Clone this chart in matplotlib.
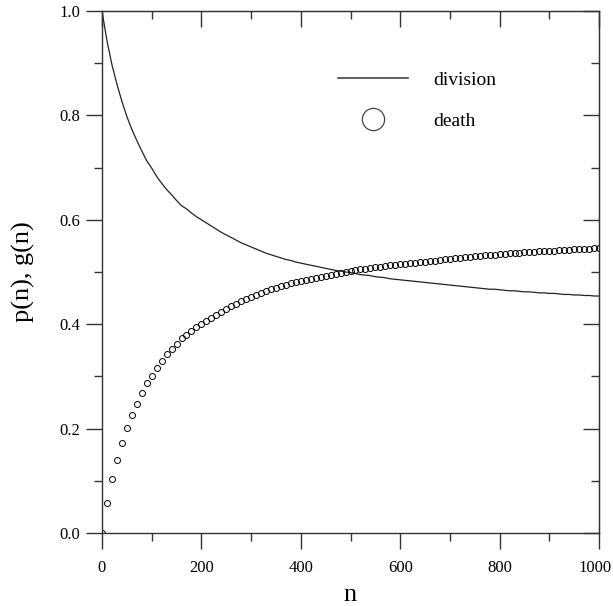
import matplotlib
matplotlib.use("Agg")
import matplotlib.pyplot as plt
import matplotlib.transforms as mtransforms
from matplotlib.lines import Line2D
from matplotlib.ticker import MultipleLocator

n_values = list(range(0, 1001, 10))

death = [
    0.000, 0.057, 0.103, 0.140, 0.173, 0.202, 0.227, 0.248, 0.268, 0.287,
    0.301, 0.317, 0.330, 0.342, 0.352, 0.363, 0.373, 0.379, 0.387, 0.394,
    0.400, 0.406, 0.412, 0.418, 0.424, 0.429, 0.434, 0.439, 0.444, 0.448,
    0.452, 0.456, 0.460, 0.464, 0.467, 0.470, 0.473, 0.476, 0.478, 0.481,
    0.483, 0.485, 0.487, 0.489, 0.491, 0.493, 0.495, 0.497, 0.498, 0.500,
    0.501, 0.503, 0.505, 0.506, 0.507, 0.509, 0.510, 0.511, 0.513, 0.514,
    0.515, 0.516, 0.517, 0.518, 0.519, 0.520, 0.521, 0.522, 0.523, 0.524,
    0.525, 0.526, 0.527, 0.528, 0.529, 0.530, 0.531, 0.532, 0.533, 0.533,
    0.534, 0.535, 0.536, 0.536, 0.537, 0.538, 0.538, 0.539, 0.540, 0.540,
    0.541, 0.541, 0.542, 0.543, 0.543, 0.544, 0.544, 0.545, 0.545, 0.546,
    0.546,
]

division = [
    1.000, 0.943, 0.897, 0.860, 0.827, 0.798, 0.773, 0.752, 0.732, 0.713,
    0.699, 0.683, 0.670, 0.658, 0.648, 0.637, 0.627, 0.621, 0.613, 0.606,
    0.600, 0.594, 0.588, 0.582, 0.576, 0.571, 0.566, 0.561, 0.556, 0.552,
    0.548, 0.544, 0.540, 0.536, 0.533, 0.530, 0.527, 0.524, 0.522, 0.519,
    0.517, 0.515, 0.513, 0.511, 0.509, 0.507, 0.505, 0.503, 0.502, 0.500,
    0.499, 0.497, 0.495, 0.494, 0.493, 0.491, 0.490, 0.489, 0.487, 0.486,
    0.485, 0.484, 0.483, 0.482, 0.481, 0.480, 0.479, 0.478, 0.477, 0.476,
    0.475, 0.474, 0.473, 0.472, 0.471, 0.470, 0.469, 0.468, 0.467, 0.467,
    0.466, 0.465, 0.464, 0.464, 0.463, 0.462, 0.462, 0.461, 0.460, 0.460,
    0.459, 0.459, 0.458, 0.457, 0.457, 0.456, 0.456, 0.455, 0.455, 0.454,
    0.454,
]

x_ticks = [0, 200, 400, 600, 800, 1000]
y_ticks = [0.0, 0.2, 0.4, 0.6, 0.8, 1.0]
y_tick_labels = ["0.0", "0.2", "0.4", "0.6", "0.8", "1.0"]

plt.rcParams["font.family"] = ["Liberation Serif", "DejaVu Serif"]

fig = plt.figure(figsize=(6.13, 6.06), dpi=100)
ax = fig.add_axes([102 / 613, 1 - 533 / 606, (599 - 102) / 613, (533 - 11) / 606])

ax.plot(n_values, division, color="#222222", lw=0.9, label="division")
ax.plot(n_values, death, ls="none", marker="o", ms=4.3, mfc="none",
        mec="black", mew=0.7, label="death")

ax.set_xlim(0, 1000)
ax.set_ylim(0, 1.0)
ax.set_xticks(x_ticks)
ax.set_yticks(y_ticks)
ax.set_yticklabels(y_tick_labels)
ax.xaxis.set_minor_locator(MultipleLocator(100))
ax.yaxis.set_minor_locator(MultipleLocator(0.1))

for s in ax.spines.values():
    s.set_linewidth(1.0)
    s.set_color("#333333")

ax.tick_params(axis="both", which="major", direction="out", length=11.5,
               width=1.0, labelsize=12, top=False, right=False,
               color="#333333")
ax.tick_params(axis="x", which="major", pad=8)
ax.tick_params(axis="y", which="major", pad=4)
ax.tick_params(axis="both", which="minor", direction="out", length=5.8,
               width=1.0, top=False, right=False, color="#333333")

# nudge the last x tick label so it stays inside the figure
last_label = ax.get_xticklabels()[-1]
last_label.set_transform(last_label.get_transform() +
                         mtransforms.ScaledTranslation(-4 / 100, 0, fig.dpi_scale_trans))

secx = ax.secondary_xaxis("top")
secx.set_xticks(x_ticks)
secx.xaxis.set_minor_locator(MultipleLocator(100))
secx.tick_params(which="major", direction="in", length=11.5, width=1.0,
                 labeltop=False, color="#333333")
secx.tick_params(which="minor", direction="in", length=5.8, width=1.0,
                 color="#333333")
secx.spines["top"].set_color("#333333")

secy = ax.secondary_yaxis("right")
secy.set_yticks(y_ticks)
secy.yaxis.set_minor_locator(MultipleLocator(0.1))
secy.tick_params(which="major", direction="in", length=11.5, width=1.0,
                 labelright=False, color="#333333")
secy.tick_params(which="minor", direction="in", length=5.8, width=1.0,
                 color="#333333")
secy.spines["right"].set_color("#333333")

ax.set_xlabel("n", fontsize=19, labelpad=6)
ax.set_ylabel("p(n), g(n)", fontsize=19, labelpad=18)

handles = [
    Line2D([], [], color="#444444", lw=1.2),
    Line2D([], [], ls="none", marker="o", ms=16, mfc="none", mec="#444444", mew=0.9),
]
ax.legend(handles, ["division", "death"], loc="upper left",
          bbox_to_anchor=(0.44, 0.918), frameon=False, fontsize=14,
          handlelength=3.6, handletextpad=1.3, labelspacing=1.2)

fig.savefig("out.png", dpi=100)
